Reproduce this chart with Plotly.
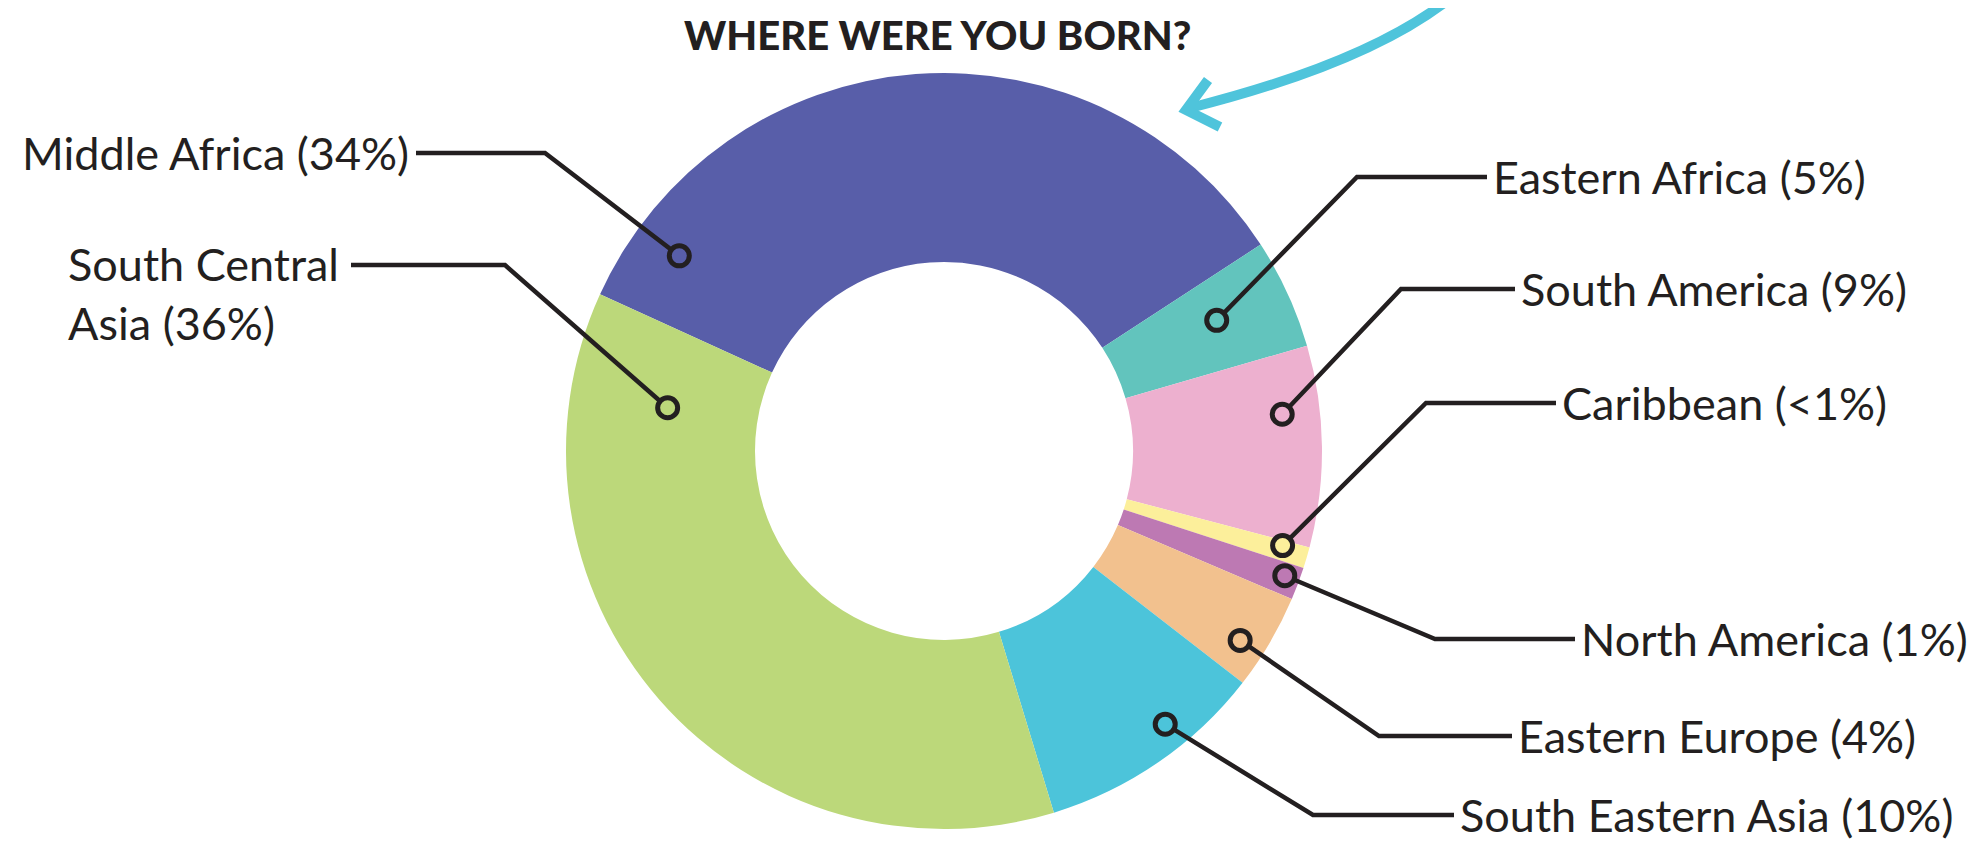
import math
import plotly.graph_objects as go

# data (share of respondents, %)
regions = ["Middle Africa", "Eastern Africa", "South America", "Caribbean",
           "North America", "Eastern Europe", "South Eastern Asia", "South Central Asia"]
shares = [34.0, 4.7, 8.6, 0.9, 1.4, 4.1, 9.8, 36.5]
pct_text = ["34%", "5%", "9%", "<1%", "1%", "4%", "10%", "36%"]
colors = ["#585EA9", "#62C4BD", "#EDB0CF", "#FCEF9B",
          "#BD79B3", "#F2C18E", "#4CC4DA", "#BCD87A"]

W, H = 1979, 844
OFF = 8                      # page body margin
CX, CY, R = 944, 451, 378    # donut centre / radius in page pixels
INK = "#231F20"
FONT = "Lato"

# callout layout: marker (angle clockwise from 12 o'clock, radius fraction),
# elbow point, end of horizontal run, text side
callouts = {
    "Middle Africa":      dict(ang=306.4, rf=0.87, elbow=(545, 153), end=(416, 153), side="left"),
    "South Central Asia": dict(ang=278.9, rf=0.74, elbow=(505, 265), end=(351, 265), side="left"),
    "Eastern Africa":     dict(ang=64.4, rf=0.80, elbow=(1357, 177), end=(1487, 177), side="right"),
    "South America":      dict(ang=83.8, rf=0.90, elbow=(1401, 289), end=(1515, 289), side="right"),
    "Caribbean":          dict(ang=105.6, rf=0.93, elbow=(1426, 403), end=(1556, 403), side="right"),
    "North America":      dict(ang=110.1, rf=0.96, elbow=(1435, 639), end=(1575, 639), side="right"),
    "Eastern Europe":     dict(ang=122.6, rf=0.93, elbow=(1379, 736), end=(1512, 736), side="right"),
    "South Eastern Asia": dict(ang=141.0, rf=0.93, elbow=(1313, 815), end=(1454, 815), side="right"),
}

fw, fh = W - OFF, H - OFF
fig = go.Figure()

fig.add_trace(go.Pie(
    labels=regions,
    values=shares,
    hole=0.5,
    sort=False,
    direction="clockwise",
    rotation=294.5,
    marker=dict(colors=colors, line=dict(width=0)),
    textinfo="none",
    hoverinfo="label+percent",
    showlegend=False,
    domain=dict(x=[(CX - OFF - R) / fw, (CX - OFF + R) / fw],
                y=[1 - (CY - OFF + R) / fh, 1 - (CY - OFF - R) / fh]),
))

shapes = []
annotations = []
for name, pct, col in zip(regions, pct_text, colors):
    c = callouts[name]
    a = math.radians(c["ang"])
    mx = CX + c["rf"] * R * math.sin(a)
    my = CY - c["rf"] * R * math.cos(a)
    ex, ey = c["elbow"]
    hx, hy = c["end"]
    shapes.append(dict(type="path", path=f"M {mx},{my} L {ex},{ey} L {hx},{hy}",
                       line=dict(color=INK, width=4.5)))
    shapes.append(dict(type="circle", x0=mx - 10, x1=mx + 10, y0=my - 10, y1=my + 10,
                       fillcolor=col, line=dict(color=INK, width=5)))

    if name == "South Central Asia":
        annotations.append(dict(x=66, y=hy, text="South Central<br>Asia (" + pct + ")",
                                xanchor="left", yanchor="top", align="left", yshift=30))
    elif c["side"] == "left":
        annotations.append(dict(x=hx - 5, y=hy, text=f"{name} ({pct})", xanchor="right", yanchor="middle"))
    else:
        annotations.append(dict(x=hx + 4, y=hy, text=f"{name} ({pct})", xanchor="left", yanchor="middle"))

for an in annotations:
    an.update(showarrow=False, font=dict(family=FONT, size=45, color=INK))

annotations.append(dict(x=937, y=OFF + 1, text="WHERE WERE YOU BORN?", showarrow=False,
                        xanchor="center", yanchor="top",
                        font=dict(family="Lato Black, Lato", size=40, color=INK, weight=900)))

# cyan pointer arrow
arrow = "#4FC4DB"
shapes += [
    dict(type="path", path="M 1460,-10 Q 1380,60 1190,108", line=dict(color=arrow, width=10)),
    dict(type="path", path="M 1208,80 L 1186,110 L 1220,127", line=dict(color=arrow, width=10)),
]
for s in shapes:
    s.update(xref="x", yref="y", layer="above")
for an in annotations:
    an.update(xref="x", yref="y")

fig.update_layout(
    width=fw, height=fh,
    margin=dict(l=0, r=0, t=0, b=0),
    paper_bgcolor="white", plot_bgcolor="rgba(0,0,0,0)",
    xaxis=dict(range=[OFF, W], visible=False, fixedrange=True),
    yaxis=dict(range=[H, OFF], visible=False, fixedrange=True),
    showlegend=False,
    annotations=annotations,
    shapes=shapes,
)

fig.write_html("out.html")
